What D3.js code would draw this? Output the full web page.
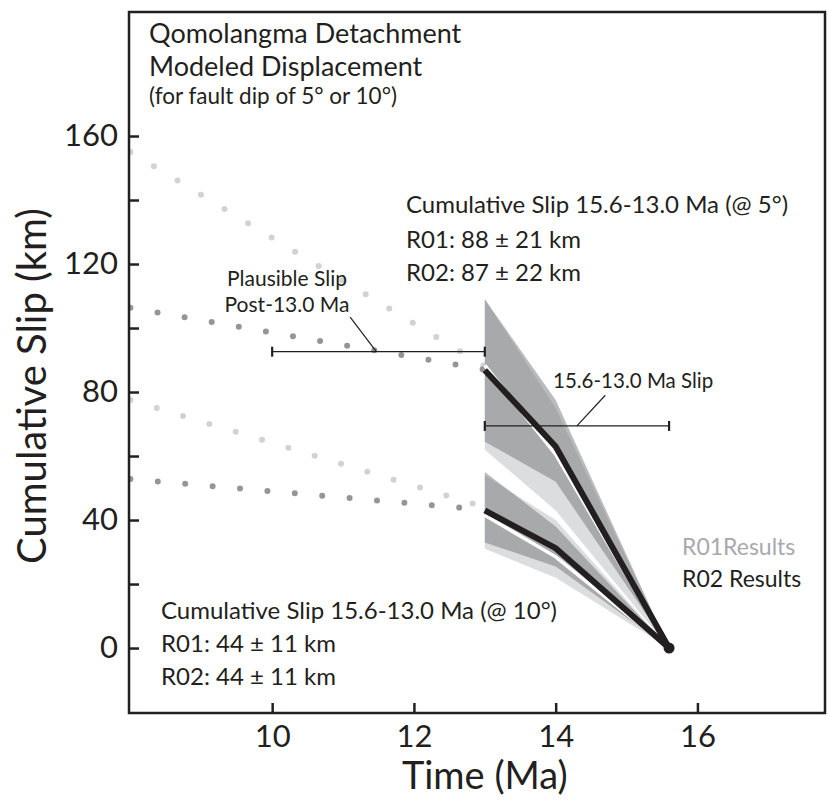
<!DOCTYPE html>
<html>
<head>
<meta charset="utf-8">
<script src="https://cdn.jsdelivr.net/npm/d3@7"></script>
<style>
  body { margin: 0; background: #fff; }
  text { font-family: Lato, "Open Sans", sans-serif; }
</style>
</head>
<body>
<div id="chart"></div>
<script>
const W = 828, H = 806;

// axis ticks
const xTicks = [10, 12, 14, 16];
const yTicks = [0, 20, 40, 60, 80, 100, 120, 140, 160];
const yLabels = [0, 40, 80, 120, 160];

// projected (dotted) trends, 8 Ma -> 13 Ma
const trendT = [8, 13];
const trendR01dip5 = [155, 88];
const trendR02dip5 = [106.3, 87];
const trendR01dip10 = [77.5, 44];
const trendR02dip10 = [52.8, 43.2];

// modeled slip 13.0 -> 15.6 Ma
const modelT = [13, 14, 15.6];
const r01dip5Lo = [62, 43, 0], r01dip5Hi = [109, 75, 0], r01dip5Mid = [88.3, 60.5, 0];
const r02dip5Lo = [64.5, 52, 0], r02dip5Hi = [109, 77.5, 0], r02dip5Mid = [86.8, 63, 0];
const r01dip10Lo = [31, 22, 0], r01dip10Hi = [54, 40, 0], r01dip10Mid = [41.5, 28.5, 0];
const r02dip10Lo = [33, 25.5, 0], r02dip10Hi = [55, 38, 0], r02dip10Mid = [43, 31.2, 0];

// bars: [t0, t1, value]
const plausibleBar = [10, 13, 92.6];
const slipBar = [13, 15.6, 69.4];

const x = d3.scaleLinear().domain([7.98, 17.8]).range([129, 825]);
const y = d3.scaleLinear().domain([-20.3, 198.75]).range([713, 12]);

const svg = d3.select("#chart").append("svg")
  .attr("width", W).attr("height", H);

svg.append("defs").append("clipPath").attr("id", "plot")
  .append("rect")
  .attr("x", x(7.98)).attr("y", y(198.75))
  .attr("width", x(17.8) - x(7.98)).attr("height", y(-20.3) - y(198.75));

const g = svg.append("g").attr("clip-path", "url(#plot)");

// dotted trend lines
function dotted(vals, color) {
  g.append("line")
    .attr("x1", x(trendT[0])).attr("y1", y(vals[0]))
    .attr("x2", x(trendT[1])).attr("y2", y(vals[1]))
    .attr("stroke", color).attr("stroke-width", 6)
    .attr("stroke-linecap", "round")
    .attr("stroke-dasharray", "0 27.5");
}
dotted(trendR01dip5, "#d1d2d4");
dotted(trendR02dip5, "#939598");
dotted(trendR01dip10, "#d1d2d4");
dotted(trendR02dip10, "#939598");

const area = d3.area()
  .x((d, i) => x(modelT[i]))
  .y0(d => y(d[0])).y1(d => y(d[1]));
const line = d3.line()
  .x((d, i) => x(modelT[i])).y(d => y(d));

function band(lo, hi, fill, op) {
  g.append("path")
    .attr("d", area(lo.map((v, i) => [v, hi[i]])))
    .attr("fill", fill).attr("fill-opacity", op);
}
band(r01dip5Lo, r01dip5Hi, "#dcddde", 1);
band(r01dip10Lo, r01dip10Hi, "#dcddde", 1);
band(r02dip5Lo, r02dip5Hi, "#6d6e71", 0.47);
band(r02dip10Lo, r02dip10Hi, "#6d6e71", 0.47);

function median(vals, color, w) {
  g.append("path").attr("d", line(vals))
    .attr("fill", "none").attr("stroke", color)
    .attr("stroke-width", w).attr("stroke-linejoin", "miter");
}
median(r01dip5Mid, "#fff", 3.5);
median(r01dip10Mid, "#fff", 3.5);
median(r02dip5Mid, "#231f20", 6);
median(r02dip10Mid, "#231f20", 6);

g.append("circle")
  .attr("cx", x(modelT[2])).attr("cy", y(0)).attr("r", 5.5)
  .attr("fill", "#231f20");

// range bars with end caps
function rangeBar(b) {
  const bg = svg.append("g").attr("stroke", "#231f20");
  bg.append("line")
    .attr("x1", x(b[0])).attr("x2", x(b[1]))
    .attr("y1", y(b[2])).attr("y2", y(b[2]))
    .attr("stroke-width", 1.3);
  [b[0], b[1]].forEach(t => {
    bg.append("line")
      .attr("x1", x(t)).attr("x2", x(t))
      .attr("y1", y(b[2]) - 5).attr("y2", y(b[2]) + 5)
      .attr("stroke-width", 2.2);
  });
}
rangeBar(plausibleBar);
rangeBar(slipBar);

// leader lines
svg.append("line")
  .attr("x1", x(11.47)).attr("y1", y(plausibleBar[2]))
  .attr("x2", x(11.1)).attr("y2", y(103.4))
  .attr("stroke", "#231f20").attr("stroke-width", 1.2);
svg.append("line")
  .attr("x1", x(14.3)).attr("y1", y(slipBar[2]))
  .attr("x2", x(14.7)).attr("y2", y(79))
  .attr("stroke", "#231f20").attr("stroke-width", 1.2);

// axes
const xAxis = d3.axisBottom(x).tickValues(xTicks).tickSize(-10).tickPadding(12);
const yAxis = d3.axisLeft(y).tickValues(yTicks).tickSize(-10).tickPadding(11)
  .tickFormat(d => yLabels.includes(d) ? d : "");

const gx = svg.append("g").attr("transform", `translate(0,${y(-20.3)})`).call(xAxis);
const gy = svg.append("g").attr("transform", `translate(${x(7.98)},0)`).call(yAxis);
[gx, gy].forEach(a => {
  a.select(".domain").remove();
  a.selectAll("line").attr("stroke", "#231f20").attr("stroke-width", 2.5);
  a.selectAll("text").attr("font-size", 31).attr("font-family", "Lato, sans-serif").attr("fill", "#231f20");
});

// frame
svg.append("rect")
  .attr("x", x(7.98)).attr("y", y(198.75))
  .attr("width", x(17.8) - x(7.98)).attr("height", y(-20.3) - y(198.75))
  .attr("fill", "none").attr("stroke", "#231f20").attr("stroke-width", 2.5);

// axis titles
svg.append("text")
  .attr("x", x(13)).attr("y", 789)
  .attr("text-anchor", "middle").attr("font-size", 38).attr("fill", "#231f20")
  .text("Time (Ma)");
svg.append("text")
  .attr("transform", "translate(46,386) rotate(-90)")
  .attr("text-anchor", "middle").attr("font-size", 40).attr("fill", "#231f20")
  .text("Cumulative Slip (km)");

// titles and annotations
function txt(xp, yp, s, size, color) {
  return svg.append("text").attr("x", xp).attr("y", yp)
    .attr("font-size", size).attr("fill", color || "#231f20").text(s);
}
txt(149, 43, "Qomolangma Detachment", 27);
txt(149, 75.5, "Modeled Displacement", 27);
txt(149, 104, "(for fault dip of 5° or 10°)", 22.5);

txt(406, 213, "Cumulative Slip 15.6-13.0 Ma (@ 5°)", 24);
txt(406, 248, "R01: 88 ± 21 km", 24);
txt(406, 281, "R02: 87 ± 22 km", 24);

txt(161, 619, "Cumulative Slip 15.6-13.0 Ma (@ 10°)", 24);
txt(161, 652, "R01: 44 ± 11 km", 24);
txt(161, 685, "R02: 44 ± 11 km", 24);

txt(287, 286, "Plausible Slip", 21).attr("text-anchor", "middle");
txt(287, 312, "Post-13.0 Ma", 21).attr("text-anchor", "middle");
txt(553, 388, "15.6-13.0 Ma Slip", 20.5);

txt(682, 555, "R01Results", 23, "#a7a9ac");
txt(682, 587, "R02 Results", 23);
</script>
</body>
</html>
